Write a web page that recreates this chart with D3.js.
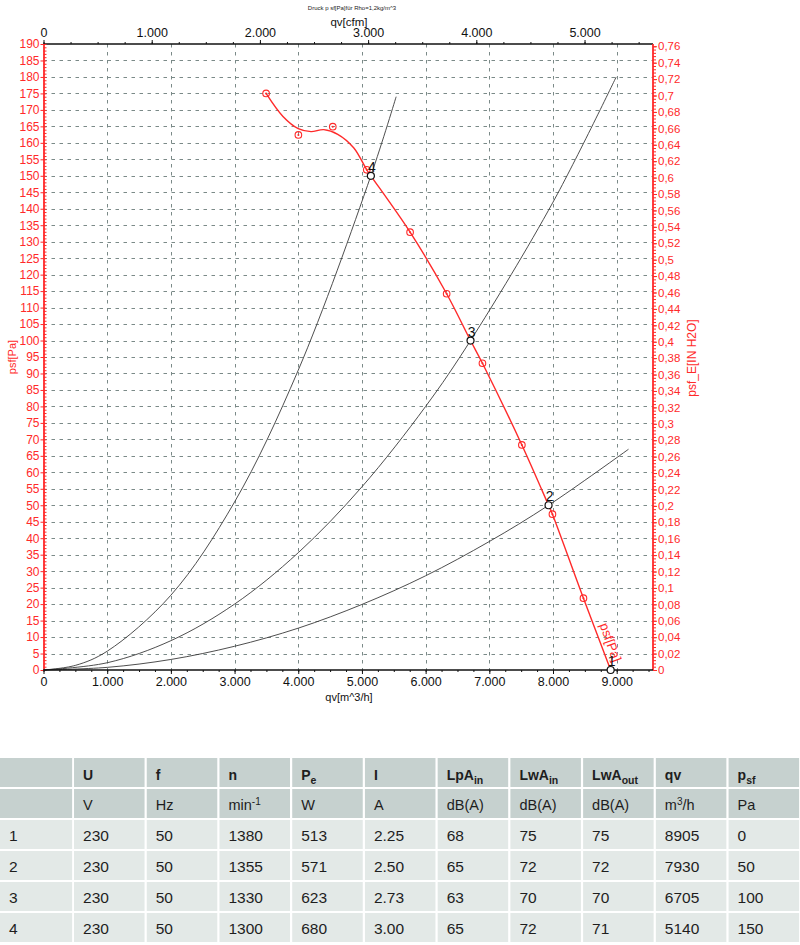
<!DOCTYPE html>
<html><head><meta charset="utf-8">
<script src="https://cdn.jsdelivr.net/npm/d3@7"></script>
<style>
body{margin:0;background:#fff}
svg{display:block}
text{font-family:"Liberation Sans",Arial,Helvetica,sans-serif}
</style>
</head><body>
<svg id="c" width="800" height="945"></svg>
<script>
// ---------------- DATA ----------------
// fan curve (red line), qv [m^3/h] / psf [Pa]
const fanLineQv = [3495, 3760, 4000, 4200, 4400, 4620, 4870, 5076, 5140, 5756, 6330, 6705, 6892, 7511, 7930, 7991, 8478, 8905];
const fanLinePs = [175, 168, 164.3, 163.4, 164.0, 162.6, 158.5, 151.8, 150, 132.9, 114.2, 100, 93.1, 68.3, 50, 47.3, 21.8, 0];
// measured points (red markers)
const fanMarkQv = [3495, 4002, 4542, 5076, 5756, 6330, 6892, 7511, 7991, 8478];
const fanMarkPs = [175, 162.4, 164.9, 151.8, 132.9, 114.2, 93.1, 68.3, 47.3, 21.8];
// system curves (black)
const sys4Qv = [0, 500, 1000, 2000, 3000, 4000, 5140, 5537];
const sys4Ps = [0, 1.4, 5.7, 22.7, 51, 91, 150, 174];
const sys3Qv = [0, 1000, 2000, 3000, 4000, 5000, 6000, 6705, 8000, 8992];
const sys3Ps = [0, 2.2, 8.9, 20, 35.6, 55.6, 80, 100, 142, 180];
const sys2Qv = [0, 1000, 2000, 3000, 4000, 5000, 6000, 7000, 7930, 9185];
const sys2Ps = [0, 0.8, 3.2, 7.2, 12.7, 19.9, 28.6, 39, 50, 67];
// operating points
const opLabels = ["1", "2", "3", "4"];
const opQv = [8905, 7930, 6705, 5140];
const opPs = [0, 50, 100, 150];
// axes
const qvMax = 9570;          // m^3/h at right edge
const psMax = 190;           // Pa at top edge
const qvTicks = [0, 1000, 2000, 3000, 4000, 5000, 6000, 7000, 8000, 9000];
const cfmTicks = [0, 1000, 2000, 3000, 4000, 5000];
const psTicks = d3.range(0, 191, 5);
const inTicks = d3.range(0, 39).map(i => i / 50);
const titleText = "Druck p sf[Pa]für Rho=1,2kg/m^3";
// table
const headMain = ["", "U", "f", "n", "P", "I", "LpA", "LwA", "LwA", "qv", "p"];
const headSub  = ["", "", "", "", "e", "", "in", "in", "out", "", "sf"];
const unitMain = ["", "V", "Hz", "min", "W", "A", "dB(A)", "dB(A)", "dB(A)", "m", "Pa"];
const unitSup  = ["", "", "", "-1", "", "", "", "", "", "3", ""];
const unitTail = ["", "", "", "", "", "", "", "", "", "/h", ""];
const tableRows = [
  ["1", "230", "50", "1380", "513", "2.25", "68", "75", "75", "8905", "0"],
  ["2", "230", "50", "1355", "571", "2.50", "65", "72", "72", "7930", "50"],
  ["3", "230", "50", "1330", "623", "2.73", "63", "70", "70", "6705", "100"],
  ["4", "230", "50", "1300", "680", "3.00", "65", "72", "71", "5140", "150"]
];

// ---------------- CHART ----------------
const svg = d3.select("#c");
const RED = "#ff2a2a";
const L = 43.5, R = 653, T = 44, B = 670;
const x = d3.scaleLinear().domain([0, qvMax]).range([L, R]);
const xc = d3.scaleLinear().domain([0, qvMax / 1.699]).range([L, R]);
const y = d3.scaleLinear().domain([0, psMax]).range([B, T]);
const yin = d3.scaleLinear().domain([0, psMax / 249.089]).range([B, T]);

const loc = d3.formatLocale({decimal: ",", thousands: ".", grouping: [3], currency: ["", ""]});
const fmtK = loc.format(",");
const fmtIn = d => String(d).replace(".", ",");

// grid
const grid = svg.append("g").attr("stroke", "#7b8a88").attr("stroke-width", 1).attr("stroke-dasharray", "3.5,4.5");
grid.selectAll("line.h").data(psTicks.filter(d => d > 0 && d < psMax)).join("line")
  .attr("x1", L).attr("x2", R).attr("y1", d => Math.round(y(d)) + 0.5).attr("y2", d => Math.round(y(d)) + 0.5);
grid.selectAll("line.v").data(qvTicks.filter(d => d > 0)).join("line")
  .attr("y1", T).attr("y2", B).attr("x1", d => Math.round(x(d)) + 0.5).attr("x2", d => Math.round(x(d)) + 0.5);

// title and axis titles
svg.append("text").attr("x", 352).attr("y", 10).attr("text-anchor", "middle")
  .attr("font-size", 6).attr("fill", "#222").text(titleText);
svg.append("text").attr("x", 349).attr("y", 26).attr("text-anchor", "middle")
  .attr("font-size", 11.5).attr("fill", "#111").text("qv[cfm]");
svg.append("text").attr("x", 349).attr("y", 701).attr("text-anchor", "middle")
  .attr("font-size", 11).attr("fill", "#111").text("qv[m^3/h]");
svg.append("text").attr("transform", "translate(16,357) rotate(-90)").attr("text-anchor", "middle")
  .attr("font-size", 11).attr("fill", RED).text("psf[Pa]");
svg.append("text").attr("transform", "translate(696,358) rotate(-90)").attr("text-anchor", "middle")
  .attr("font-size", 12).attr("fill", RED).text("psf_E[IN H2O]");

function styleAxis(g, col, fs) {
  g.select(".domain").attr("stroke", col).attr("stroke-width", 1.3);
  g.selectAll(".tick line").attr("stroke", col);
  g.selectAll(".tick text").attr("fill", col).attr("font-size", fs)
    .attr("font-family", "Liberation Sans, Arial, sans-serif");
}

// top axis (cfm)
const gTm = svg.append("g").attr("transform", `translate(0,${T})`)
  .call(d3.axisTop(xc).tickValues(d3.range(0, qvMax / 1.699, 250)).tickSize(2).tickFormat("").tickSizeOuter(0));
styleAxis(gTm, "#111", 12);
gTm.select(".domain").remove();
const gT = svg.append("g").attr("transform", `translate(0,${T})`)
  .call(d3.axisTop(xc).tickValues(cfmTicks).tickSize(4).tickPadding(3).tickSizeOuter(0).tickFormat(fmtK));
styleAxis(gT, "#111", 12.5);
gT.select(".domain").attr("d", `M${L},0H${R}`);

// bottom axis (m^3/h)
const gBm = svg.append("g").attr("transform", `translate(0,${B})`)
  .call(d3.axisBottom(x).tickValues(d3.range(0, qvMax, 250)).tickSize(2).tickFormat("").tickSizeOuter(0));
styleAxis(gBm, "#111", 12);
gBm.select(".domain").remove();

// left axis (Pa)
const gLm = svg.append("g").attr("transform", `translate(${L},0)`)
  .call(d3.axisLeft(y).tickValues(d3.range(0, 191, 1)).tickSize(-3).tickFormat("").tickSizeOuter(0));
styleAxis(gLm, RED, 12);
gLm.select(".domain").remove();
const gL = svg.append("g").attr("transform", `translate(${L},0)`)
  .call(d3.axisLeft(y).tickValues(psTicks).tickSize(3).tickPadding(1).tickSizeOuter(0).tickFormat(d => d));
styleAxis(gL, RED, 12);
gL.select(".domain").attr("stroke-width", 1.8);

// right axis (in H2O)
const gRm = svg.append("g").attr("transform", `translate(${R},0)`)
  .call(d3.axisRight(yin).tickValues(d3.range(0, 191).map(i => i / 250)).tickSize(3).tickFormat("").tickSizeOuter(0));
styleAxis(gRm, RED, 12);
gRm.select(".domain").remove();
const gR = svg.append("g").attr("transform", `translate(${R},0)`)
  .call(d3.axisRight(yin).tickValues(inTicks).tickSize(4).tickPadding(1).tickSizeOuter(0).tickFormat(fmtIn));
styleAxis(gR, RED, 11.5);
gR.select(".domain").attr("d", `M0,${B}V${T}`).attr("stroke-width", 1.8);

// curves
const line = d3.line().x(d => x(d[0])).y(d => y(d[1])).curve(d3.curveCatmullRom.alpha(0.5));
const zip = (a, b) => a.map((v, i) => [v, b[i]]);
[[sys4Qv, sys4Ps], [sys3Qv, sys3Ps], [sys2Qv, sys2Ps]].forEach(([q, p]) => {
  svg.append("path").datum(zip(q, p)).attr("d", line)
    .attr("fill", "none").attr("stroke", "#3a3a3a").attr("stroke-width", 0.9);
});
svg.append("path").datum(zip(fanLineQv, fanLinePs)).attr("d", line)
  .attr("fill", "none").attr("stroke", RED).attr("stroke-width", 1.4);

// bottom axis line drawn after curves
const gB = svg.append("g").attr("transform", `translate(0,${B})`)
  .call(d3.axisBottom(x).tickValues(qvTicks).tickSize(4).tickPadding(3).tickSizeOuter(0).tickFormat(fmtK));
styleAxis(gB, "#111", 12.5);
gB.select(".domain").attr("d", `M${L},0H${R}`);

// markers
const mk = svg.append("g");
zip(fanMarkQv, fanMarkPs).forEach(d => {
  mk.append("circle").attr("cx", x(d[0])).attr("cy", y(d[1])).attr("r", 3.3)
    .attr("fill", "none").attr("stroke", RED).attr("stroke-width", 1.1);
  mk.append("circle").attr("cx", x(d[0])).attr("cy", y(d[1])).attr("r", 1).attr("fill", RED);
});

// curve label
const lq = 8650, lp = 14;
svg.append("text").attr("transform", `translate(${x(lq) + 5},${y(lp) + 1}) rotate(70)`)
  .attr("font-size", 13).attr("fill", RED).text("psf[Pa]");

// operating points
opLabels.forEach((lab, i) => {
  const cx = x(opQv[i]), cy = y(opPs[i]);
  svg.append("circle").attr("cx", cx).attr("cy", cy).attr("r", 3.5)
    .attr("fill", "#fff").attr("stroke", "#111").attr("stroke-width", 1.2);
  svg.append("text").attr("x", cx + 1).attr("y", cy - 4).attr("text-anchor", "middle")
    .attr("font-size", 14).attr("fill", "#111").text(lab);
});

// ---------------- TABLE ----------------
const colW = 800 / 11;
const rowY = [758, 789, 820, 851, 882, 913];
const rowH = 29;
const HEAD = "#c6d1cf", BODY = "#e3e9e7", TXT = "#1e1e1e";
const tg = svg.append("g");
rowY.forEach((ry, r) => {
  for (let c = 0; c < 11; c++) {
    const cx0 = c === 0 ? 0 : c * colW + 1.3;
    const w = c === 0 ? colW - 0.6 : colW - 2.2;
    tg.append("rect").attr("x", cx0).attr("y", ry).attr("width", w).attr("height", rowH)
      .attr("fill", r < 2 ? HEAD : BODY);
  }
});
const tx = c => (c === 0 ? 0 : c * colW + 1.3) + 9;
// header row
headMain.forEach((h, c) => {
  const t = tg.append("text").attr("x", tx(c)).attr("y", 780).attr("font-size", 14)
    .attr("font-weight", "bold").attr("fill", TXT);
  t.append("tspan").text(h);
  if (headSub[c]) t.append("tspan").attr("dy", 4).attr("font-size", 10.5).text(headSub[c]);
});
// units row
unitMain.forEach((u, c) => {
  const t = tg.append("text").attr("x", tx(c)).attr("y", 810).attr("font-size", 14.5).attr("fill", TXT);
  t.append("tspan").text(u);
  if (unitSup[c]) t.append("tspan").attr("dy", -5).attr("font-size", 10).text(unitSup[c]);
  if (unitTail[c]) t.append("tspan").attr("dy", 5).text(unitTail[c]);
});
// data rows
tableRows.forEach((row, r) => {
  row.forEach((v, c) => {
    tg.append("text").attr("x", tx(c)).attr("y", rowY[r + 2] + 21).attr("font-size", 15.5)
      .attr("fill", TXT).text(v);
  });
});
</script>
</body></html>
